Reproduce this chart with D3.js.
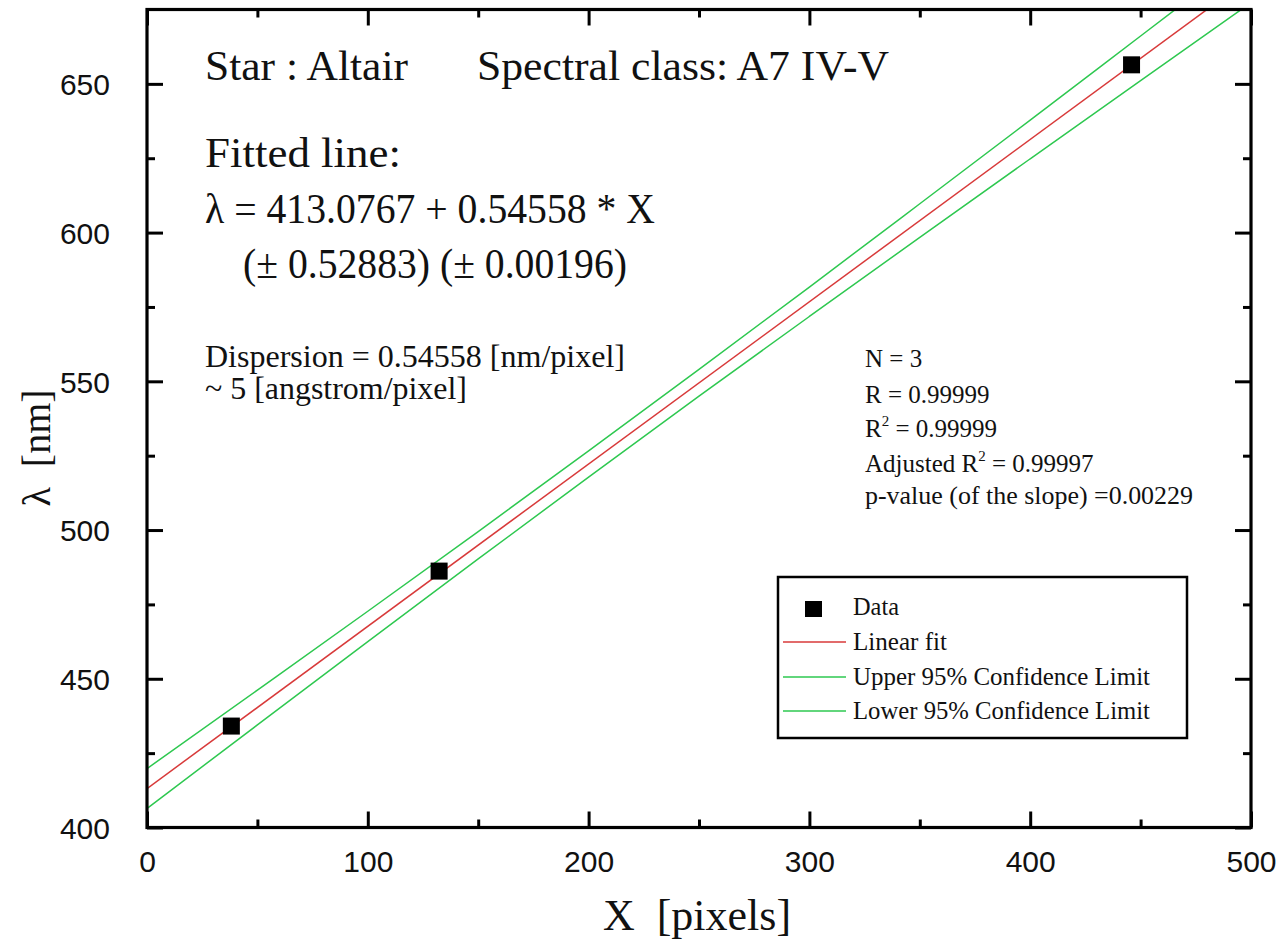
<!DOCTYPE html>
<html>
<head>
<meta charset="utf-8">
<script src="https://cdn.jsdelivr.net/npm/d3@7"></script>
<style>
  html, body { margin: 0; padding: 0; background: #fff; }
  svg { display: block; }
</style>
</head>
<body>
<svg id="chart" width="1283" height="951"></svg>
<script>
// ---- data ----
const dataX = [38.2, 132.3, 445.9];
const dataY = [434.1, 486.2, 656.4];

const fitX = [0, 500];
const fitY = [413.08, 685.87];

const ciX     = [0, 50, 100, 150, 200, 250, 300, 350, 400, 450, 500];
const upperY  = [419.8, 446.2, 472.7, 499.5, 526.6, 554.0, 581.7, 609.7, 637.8, 666.1, 694.4];
const lowerY  = [406.4, 434.5, 462.5, 490.3, 517.8, 545.0, 571.8, 598.4, 624.8, 651.1, 677.3];

const xMajorTicks = [0, 100, 200, 300, 400, 500];
const xMinorTicks = [50, 150, 250, 350, 450];
const yMajorTicks = [400, 450, 500, 550, 600, 650];
const yMinorTicks = [425, 475, 525, 575, 625];

const legendLabels = ["Data", "Linear fit", "Upper 95% Confidence Limit", "Lower 95% Confidence Limit"];

// ---- layout ----
const L = 147, R = 1251, T = 9.5, B = 827.5;
const svg = d3.select("#chart");
const x = d3.scaleLinear().domain([0, 500]).range([L, R]);
const y = d3.scaleLinear().domain([400, 675]).range([B, T]);

const serif = "'Liberation Serif', 'Times New Roman', serif";
const sans = "'Liberation Sans', Arial, sans-serif";
const RED = "#d83a3a", GREEN = "#2ec850";

svg.append("defs").append("clipPath").attr("id", "plotclip")
  .append("rect").attr("x", L).attr("y", T).attr("width", R - L).attr("height", B - T);

const plot = svg.append("g").attr("clip-path", "url(#plotclip)");

const line = d3.line().x(d => x(d[0])).y(d => y(d[1])).curve(d3.curveMonotoneX);

plot.append("path").datum(ciX.map((v, i) => [v, upperY[i]]))
  .attr("d", line).attr("fill", "none").attr("stroke", GREEN).attr("stroke-width", 1.5);
plot.append("path").datum(ciX.map((v, i) => [v, lowerY[i]]))
  .attr("d", line).attr("fill", "none").attr("stroke", GREEN).attr("stroke-width", 1.5);
plot.append("path").datum(fitX.map((v, i) => [v, fitY[i]]))
  .attr("d", line).attr("fill", "none").attr("stroke", RED).attr("stroke-width", 1.5);

const MS = 17;
plot.selectAll("rect.pt").data(dataX.map((v, i) => [v, dataY[i]])).enter()
  .append("rect").attr("class", "pt")
  .attr("x", d => x(d[0]) - MS / 2).attr("y", d => y(d[1]) - MS / 2)
  .attr("width", MS).attr("height", MS).attr("fill", "#000");

// ---- axes (inward ticks on all four sides) ----
function styleAxis(g) {
  g.select(".domain").remove();
  g.selectAll(".tick line").attr("stroke", "#000").attr("stroke-width", 3);
}
const MAJ = 16, MIN = 8;

const xb = svg.append("g").attr("transform", `translate(0,${B})`)
  .call(d3.axisBottom(x).tickValues(xMajorTicks).tickSizeInner(-MAJ).tickSizeOuter(0).tickPadding(MAJ + 28).tickFormat(d3.format("d")));
styleAxis(xb);
xb.selectAll("text").attr("font-family", sans).attr("font-size", 30).attr("fill", "#111").attr("dy", 0);
svg.append("g").attr("transform", `translate(0,${B})`)
  .call(d3.axisBottom(x).tickValues(xMinorTicks).tickSizeInner(-MIN).tickSizeOuter(0).tickFormat(""))
  .call(styleAxis);
svg.append("g").attr("transform", `translate(0,${T})`)
  .call(d3.axisTop(x).tickValues(xMajorTicks).tickSizeInner(-MAJ).tickSizeOuter(0).tickFormat(""))
  .call(styleAxis);
svg.append("g").attr("transform", `translate(0,${T})`)
  .call(d3.axisTop(x).tickValues(xMinorTicks).tickSizeInner(-MIN).tickSizeOuter(0).tickFormat(""))
  .call(styleAxis);

const yl = svg.append("g").attr("transform", `translate(${L},0)`)
  .call(d3.axisLeft(y).tickValues(yMajorTicks).tickSizeInner(-MAJ).tickSizeOuter(0).tickPadding(MAJ + 21).tickFormat(d3.format("d")));
styleAxis(yl);
yl.selectAll("text").attr("font-family", sans).attr("font-size", 30).attr("fill", "#111").attr("dy", "0.36em");
svg.append("g").attr("transform", `translate(${L},0)`)
  .call(d3.axisLeft(y).tickValues(yMinorTicks).tickSizeInner(-MIN).tickSizeOuter(0).tickFormat(""))
  .call(styleAxis);
svg.append("g").attr("transform", `translate(${R},0)`)
  .call(d3.axisRight(y).tickValues(yMajorTicks).tickSizeInner(-MAJ).tickSizeOuter(0).tickFormat(""))
  .call(styleAxis);
svg.append("g").attr("transform", `translate(${R},0)`)
  .call(d3.axisRight(y).tickValues(yMinorTicks).tickSizeInner(-MIN).tickSizeOuter(0).tickFormat(""))
  .call(styleAxis);

// frame
svg.append("rect").attr("x", L).attr("y", T).attr("width", R - L).attr("height", B - T)
  .attr("fill", "none").attr("stroke", "#000").attr("stroke-width", 3.2);

// axis titles
svg.append("text").attr("x", (L + R) / 2 - 2).attr("y", 930).attr("text-anchor", "middle")
  .attr("font-family", serif).attr("font-size", 44).attr("fill", "#111")
  .attr("xml:space", "preserve").text("X  [pixels]");
svg.append("text").attr("transform", `translate(50,448) rotate(-90)`).attr("text-anchor", "middle")
  .attr("font-family", serif).attr("font-size", 40).attr("fill", "#111")
  .attr("xml:space", "preserve").text("λ  [nm]");

// annotation texts
function txt(s, px, py, size, len) {
  const t = svg.append("text").attr("x", px).attr("y", py).attr("font-family", serif)
    .attr("font-size", size).attr("fill", "#111").attr("xml:space", "preserve").text(s);
  if (len) t.attr("textLength", len).attr("lengthAdjust", "spacingAndGlyphs");
  return t;
}
txt("Star : Altair", 205, 80, 43, 203);
txt("Spectral class: A7 IV-V", 477, 80, 43, 412);
txt("Fitted line:", 205, 167, 43, 196);
txt("λ = 413.0767 + 0.54558 * X", 205, 223, 43, 450);
txt("(± 0.52883) (± 0.00196)", 243, 278, 43, 384);
txt("Dispersion = 0.54558 [nm/pixel]", 205, 367, 31, 420);
txt("~ 5 [angstrom/pixel]", 205, 399, 31, 262);

txt("N = 3", 865, 367, 25);
txt("R = 0.99999", 865, 403, 25);
function supText(before, sup, after, px, py) {
  const t = svg.append("text").attr("x", px).attr("y", py).attr("font-family", serif)
    .attr("font-size", 25).attr("fill", "#111").attr("xml:space", "preserve");
  t.append("tspan").text(before);
  t.append("tspan").attr("font-size", 15).attr("dy", -11).text(sup);
  t.append("tspan").attr("dy", 11).text(after);
}
supText("R", "2", " = 0.99999", 865, 437);
supText("Adjusted R", "2", " = 0.99997", 865, 472);
txt("p-value (of the slope) =0.00229", 865, 504, 25, 328);

// legend
svg.append("rect").attr("x", 778).attr("y", 577).attr("width", 409).attr("height", 161)
  .attr("fill", "#fff").attr("stroke", "#000").attr("stroke-width", 2.5);
const legY = [615, 650, 685, 719];
const legLen = [46, 94, 297, 297];
legendLabels.forEach((lab, i) => {
  txt(lab, 853, legY[i], 25, legLen[i]);
});
svg.append("rect").attr("x", 805).attr("y", 601).attr("width", 17).attr("height", 16).attr("fill", "#000");
[[1, RED], [2, GREEN], [3, GREEN]].forEach(([i, c]) => {
  svg.append("line").attr("x1", 783).attr("x2", 846).attr("y1", legY[i] - 8).attr("y2", legY[i] - 8)
    .attr("stroke", c).attr("stroke-width", 1.5);
});
</script>
</body>
</html>
